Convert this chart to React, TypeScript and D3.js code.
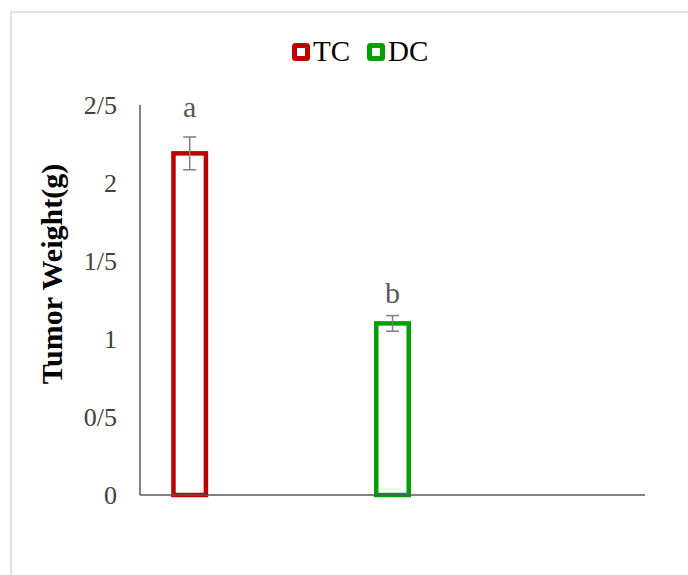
import * as d3 from "d3";

const categories = ["TC", "DC"];
const colors = ["#c00000", "#00a000"];
const means = [2.19, 1.1];
const errors = [0.105, 0.05];
const letters = ["a", "b"];
const letterValues = [2.42, 1.23];
const yTicks = [0, 0.5, 1, 1.5, 2, 2.5];
const yTickLabels = ["0", "0/5", "1", "1/5", "2", "2/5"];

const width = 688;
const height = 575;
const margin = { top: 105, right: 43, bottom: 80, left: 140 };
const font = "'Liberation Serif', 'Times New Roman', serif";

const App = () => {
  const x = d3
    .scaleBand()
    .domain([...categories, "_empty"])
    .range([margin.left, width - margin.right])
    .paddingInner(0.84)
    .paddingOuter(0.165);

  const y = d3
    .scaleLinear()
    .domain([0, 2.5])
    .range([height - margin.bottom, margin.top]);

  const capW = 13;

  return (
    <svg
      width={width}
      height={height}
      style={{ position: "absolute", left: 0, top: 0, background: "#fff" }}
    >
      {/* outer frame */}
      <rect
        x={11}
        y={12}
        width={width + 20}
        height={height + 20}
        fill="none"
        stroke="#d9d9d9"
        strokeWidth={1.5}
      />

      {/* legend */}
      <g fontFamily={font} fontSize={29} fill="#000">
        {categories.map((c, i) => {
          const lx = [292, 367][i];
          return (
            <g key={c}>
              <rect
                x={lx + 2.5}
                y={45.5}
                width={13}
                height={13}
                rx={1}
                fill="#fff"
                stroke={colors[i]}
                strokeWidth={5}
              />
              <text x={lx + 21} y={61}>
                {c}
              </text>
            </g>
          );
        })}
      </g>

      {/* y tick labels */}
      <g fontFamily={font} fontSize={26} fill="#404040" textAnchor="end">
        {yTicks.map((t, i) => (
          <text key={t} x={117} y={y(t) + 9}>
            {yTickLabels[i]}
          </text>
        ))}
      </g>

      {/* y title */}
      <text
        transform={`translate(62, 274) rotate(-90)`}
        textAnchor="middle"
        fontFamily={font}
        fontSize={30}
        fontWeight="bold"
        fill="#000"
      >
        Tumor Weight(g)
      </text>

      {/* bars */}
      {categories.map((c, i) => {
        const bx = x(c) as number;
        const bw = x.bandwidth();
        const cx = bx + bw / 2;
        return (
          <g key={c}>
            <rect
              x={bx}
              y={y(means[i])}
              width={bw}
              height={y(0) - y(means[i])}
              fill="#fff"
              stroke={colors[i]}
              strokeWidth={4.5}
            />
            <g stroke="#7f7f7f" strokeWidth={1.5}>
              <line
                x1={cx}
                x2={cx}
                y1={y(means[i] + errors[i])}
                y2={y(means[i] - errors[i])}
              />
              <line
                x1={cx - capW / 2}
                x2={cx + capW / 2}
                y1={y(means[i] + errors[i])}
                y2={y(means[i] + errors[i])}
              />
              <line
                x1={cx - capW / 2}
                x2={cx + capW / 2}
                y1={y(means[i] - errors[i])}
                y2={y(means[i] - errors[i])}
              />
            </g>
            <text
              x={cx}
              y={y(letterValues[i])}
              textAnchor="middle"
              fontFamily={font}
              fontSize={30}
              fill="#595959"
            >
              {letters[i]}
            </text>
          </g>
        );
      })}

      {/* axes */}
      <g stroke="#595959" strokeWidth={1.5}>
        <line
          x1={margin.left}
          x2={margin.left}
          y1={margin.top}
          y2={y(0)}
        />
        <line
          x1={margin.left}
          x2={width - margin.right}
          y1={y(0)}
          y2={y(0)}
        />
      </g>
    </svg>
  );
};

export default App;
